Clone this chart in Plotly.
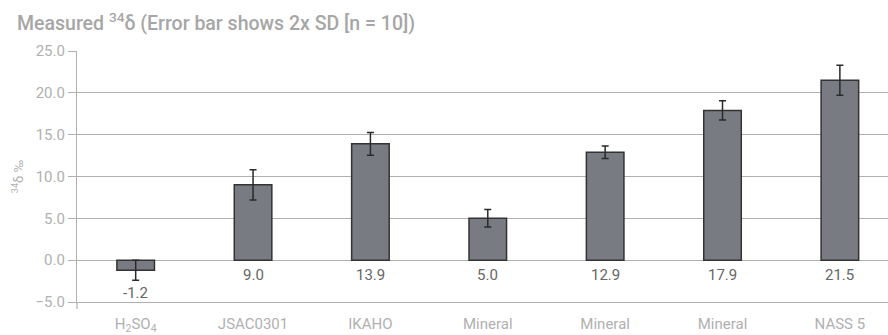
import plotly.graph_objects as go

categories = ["H<sub>2</sub>SO<sub>4</sub>", "JSAC0301", "IKAHO", "Mineral", "Mineral", "Mineral", "NASS 5"]
values = [-1.2, 9.0, 13.9, 5.0, 12.9, 17.9, 21.5]
errors = [1.2, 1.8, 1.35, 1.05, 0.75, 1.15, 1.8]
y_ticks = [-5, 0, 5, 10, 15, 20, 25]
x_pos = list(range(len(categories)))

FONT = "Roboto"
fig = go.Figure()
fig.add_trace(go.Bar(
    x=x_pos, y=values, width=0.32,
    marker=dict(color="#787b81", line=dict(color="#333333", width=1.5)),
    error_y=dict(type="data", array=errors, visible=True, color="#2a2a2a", thickness=1.5, width=3.5),
    hoverinfo="skip",
))

for xi, v, e in zip(x_pos, values, errors):
    fig.add_annotation(x=xi, y=min(0, v - e), text=f"{v:.1f}", showarrow=False,
                       yanchor="top", yshift=-4 if v >= 0 else -2,
                       font=dict(family=FONT, size=15, color="#666666"))

fig.add_shape(type="line", xref="paper", yref="paper", x0=0, x1=0, y0=-0.028, y1=0,
              line=dict(color="#b0b0b0", width=1.2))

fig.update_layout(
    width=888, height=335,
    margin=dict(l=77, r=0, t=51, b=29),
    plot_bgcolor="white", paper_bgcolor="white",
    showlegend=False,
    font=dict(family=FONT),
    title=dict(text="Measured <sup>34</sup>δ (Error bar shows 2x SD [n = 10])",
               x=17/888, xanchor="left", xref="container",
               y=1-23/335, yanchor="middle", yref="container",
               font=dict(family=FONT, size=19.5, color="#a6a6a6", weight=500)),
    xaxis=dict(range=[-0.5, 6.41], tickvals=x_pos, ticktext=categories,
               showgrid=False, zeroline=False, showline=True, linecolor="#b0b0b0", linewidth=1.2,
               ticks="", ticklabelstandoff=8,
               tickfont=dict(family=FONT, size=15, color="#b0b0b0")),
    yaxis=dict(range=[-5, 25], tickvals=y_ticks, tickformat=".1f",
               showgrid=True, gridcolor="#b0b0b0", gridwidth=1.1,
               zeroline=True, zerolinecolor="#b0b0b0", zerolinewidth=1.1,
               showline=True, linecolor="#b0b0b0", linewidth=1.2,
               ticks="outside", ticklen=8, tickcolor="#b0b0b0", tickwidth=1.2,
               tickfont=dict(family=FONT, size=15, color="#b0b0b0"),
               title=dict(text="<sup>34</sup>δ ‰", standoff=8,
                          font=dict(family=FONT, size=13, color="#b0b0b0"))),
)

fig.write_html("out.html", config={"displayModeBar": False},
               post_script="document.body.style.margin='0';document.body.style.overflow='hidden';")
